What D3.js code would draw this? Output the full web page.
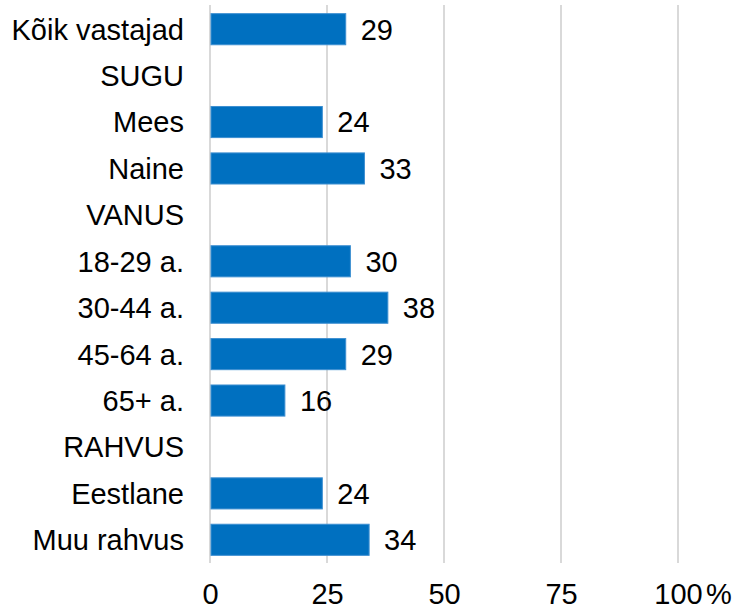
<!DOCTYPE html>
<html>
<head>
<meta charset="utf-8">
<script src="https://cdn.jsdelivr.net/npm/d3@7"></script>
<style>
  body { margin: 0; background: #fff; }
  text { font-family: "Liberation Sans", Arial, sans-serif; fill: #000; }
</style>
</head>
<body>
<div id="main"></div>
<script>
'use strict';

// rows, top to bottom (null = group header, no bar)
var categories = ['Kõik vastajad', 'SUGU', 'Mees', 'Naine', 'VANUS', '18-29 a.', '30-44 a.',
                  '45-64 a.', '65+ a.', 'RAHVUS', 'Eestlane', 'Muu rahvus'];
var values = [29, null, 24, 33, null, 30, 38, 29, 16, null, 24, 34];
var ticks = [0, 25, 50, 75, 100];

var width = 734, height = 611;
var margin = { top: 6, right: 56, bottom: 48, left: 210 };
var fs = '29px';

var svg = d3.select('#main').append('svg')
  .attr('width', width).attr('height', height);

var x = d3.scaleLinear().domain([0, 100]).range([margin.left, width - margin.right]);
var y = d3.scaleBand().domain(categories)
  .range([margin.top, height - margin.bottom])
  .paddingInner(0.33).paddingOuter(0.165);

// gridlines
svg.append('g').selectAll('line')
  .data(ticks).enter()
  .append('line')
  .attr('x1', function(d) { return x(d); })
  .attr('x2', function(d) { return x(d); })
  .attr('y1', margin.top - 1)
  .attr('y2', height - margin.bottom)
  .attr('stroke', '#d9d9d9')
  .attr('stroke-width', 2);

var rows = categories.map(function(c, i) { return { cat: c, v: values[i] }; });
var withBar = rows.filter(function(d) { return d.v !== null; });

svg.append('g').selectAll('rect')
  .data(withBar).enter()
  .append('rect')
  .attr('x', x(0) + 1)
  .attr('y', function(d) { return y(d.cat); })
  .attr('width', function(d) { return x(d.v) - x(0) - 1; })
  .attr('height', y.bandwidth())
  .attr('fill', '#0070c0')
  .attr('stroke', '#3d8fd1')
  .attr('stroke-width', 1);

// value labels
svg.append('g').selectAll('text')
  .data(withBar).enter()
  .append('text')
  .attr('x', function(d) { return x(d.v) + 15; })
  .attr('y', function(d) { return y(d.cat) + y.bandwidth() / 2; })
  .attr('dy', '0.36em')
  .style('font-size', fs)
  .text(function(d) { return d.v; });

// category labels
svg.append('g').selectAll('text')
  .data(rows).enter()
  .append('text')
  .attr('x', 184)
  .attr('y', function(d) { return y(d.cat) + y.bandwidth() / 2; })
  .attr('dy', '0.36em')
  .attr('text-anchor', 'end')
  .style('font-size', fs)
  .text(function(d) { return d.cat; });

// x axis labels
var xAxis = d3.axisBottom(x).tickValues(ticks).tickSize(0).tickPadding(20);
var gx = svg.append('g')
  .attr('transform', 'translate(0,' + (height - margin.bottom) + ')')
  .call(xAxis);
gx.select('.domain').remove();
gx.selectAll('text')
  .style('font-size', fs)
  .style('font-family', '"Liberation Sans", Arial, sans-serif')
  .attr('fill', '#000');

// "%" after the last tick label
svg.append('text')
  .attr('x', x(100) + 28)
  .attr('y', height - margin.bottom + 20)
  .attr('dy', '0.71em')
  .style('font-size', fs)
  .text('%');
</script>
</body>
</html>
